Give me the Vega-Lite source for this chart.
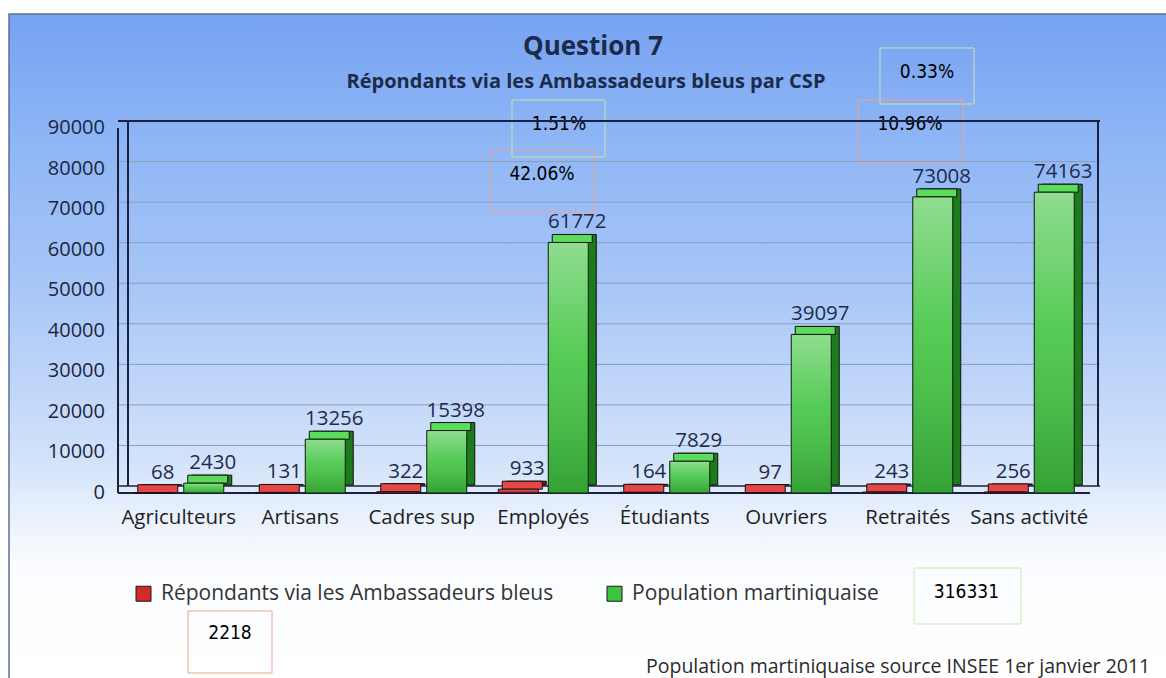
{
  "$schema": "https://vega.github.io/schema/vega-lite/v6.json",
  "width": 972,
  "height": 365,
  "autosize": {"type": "none"},
  "padding": {"left": 118, "top": 128, "right": 76, "bottom": 185},
  "background": "#ffffff",
  "config": {"view": {"stroke": null}, "font": "Open Sans"},
  "datasets": {
    "csp": [
      {"csp": "Agriculteurs", "serie": "Répondants via les Ambassadeurs bleus", "valeur": 68},
      {"csp": "Agriculteurs", "serie": "Population martiniquaise", "valeur": 2430},
      {"csp": "Artisans", "serie": "Répondants via les Ambassadeurs bleus", "valeur": 131},
      {"csp": "Artisans", "serie": "Population martiniquaise", "valeur": 13256},
      {"csp": "Cadres sup", "serie": "Répondants via les Ambassadeurs bleus", "valeur": 322},
      {"csp": "Cadres sup", "serie": "Population martiniquaise", "valeur": 15398},
      {"csp": "Employés", "serie": "Répondants via les Ambassadeurs bleus", "valeur": 933},
      {"csp": "Employés", "serie": "Population martiniquaise", "valeur": 61772},
      {"csp": "Étudiants", "serie": "Répondants via les Ambassadeurs bleus", "valeur": 164},
      {"csp": "Étudiants", "serie": "Population martiniquaise", "valeur": 7829},
      {"csp": "Ouvriers", "serie": "Répondants via les Ambassadeurs bleus", "valeur": 97},
      {"csp": "Ouvriers", "serie": "Population martiniquaise", "valeur": 39097},
      {"csp": "Retraités", "serie": "Répondants via les Ambassadeurs bleus", "valeur": 243},
      {"csp": "Retraités", "serie": "Population martiniquaise", "valeur": 73008},
      {"csp": "Sans activité", "serie": "Répondants via les Ambassadeurs bleus", "valeur": 256},
      {"csp": "Sans activité", "serie": "Population martiniquaise", "valeur": 74163}
    ],
    "graduations": [
      {"graduation": 0}, {"graduation": 10000}, {"graduation": 20000}, {"graduation": 30000}, {"graduation": 40000},
      {"graduation": 50000}, {"graduation": 60000}, {"graduation": 70000}, {"graduation": 80000}, {"graduation": 90000}
    ],
    "annotations": [
      {"id": "a1", "texte": "0.33%"},
      {"id": "a2", "texte": "10.96%"},
      {"id": "a3", "texte": "1.51%"},
      {"id": "a4", "texte": "42.06%"},
      {"id": "a5", "texte": "316331"},
      {"id": "a6", "texte": "2218"}
    ]
  },
  "resolve": {"scale": {"x": "independent", "y": "independent"}},
  "layer": [
    {
      "data": {"values": [{}]},
      "layer": [
        {
          "mark": {"type": "rect", "stroke": "#5d7091", "strokeWidth": 1.5,
            "fill": {"gradient": "linear", "x1": 0, "y1": 0, "x2": 0, "y2": 1,
              "stops": [
                {"offset": 0, "color": "#76a2f2"},
                {"offset": 0.172, "color": "#8cb4f5"},
                {"offset": 0.416, "color": "#a9c7f7"},
                {"offset": 0.657, "color": "#d0e1fa"},
                {"offset": 0.747, "color": "#e8f0fc"},
                {"offset": 0.822, "color": "#fbfcff"},
                {"offset": 1, "color": "#ffffff"}
              ]}},
          "encoding": {
            "x": {"datum": -0.11214, "type": "quantitative", "scale": {"domain": [0, 1], "nice": false, "zero": false}, "axis": null},
            "x2": {"datum": 1.08},
            "y": {"datum": 1.31233, "type": "quantitative", "scale": {"domain": [0, 1], "nice": false, "zero": false}, "axis": null},
            "y2": {"datum": -0.52}
          }
        },
        {
          "mark": {"type": "text", "text": "Question 7", "font": "Open Sans", "fontSize": 26, "fontWeight": "bold", "color": "#1c2b4a", "align": "center", "baseline": "alphabetic"},
          "encoding": {
            "x": {"datum": 0.48868, "type": "quantitative"},
            "y": {"datum": 1.2, "type": "quantitative"}
          }
        },
        {
          "mark": {"type": "text", "text": "Répondants via les Ambassadeurs bleus par CSP", "font": "Open Sans", "fontSize": 20, "fontWeight": "bold", "color": "#1c2b4a", "align": "center", "baseline": "alphabetic"},
          "encoding": {
            "x": {"datum": 0.48148, "type": "quantitative"},
            "y": {"datum": 1.10959, "type": "quantitative"}
          }
        },
        {
          "mark": {"type": "text", "text": "Population martiniquaise source INSEE 1er janvier 2011", "font": "Open Sans", "fontSize": 19.5, "color": "#2b2b2b", "align": "left", "baseline": "alphabetic"},
          "encoding": {
            "x": {"datum": 0.5432, "type": "quantitative"},
            "y": {"datum": -0.49315, "type": "quantitative"}
          }
        },
        {
          "mark": {"type": "rect", "fill": "transparent", "stroke": "#c9e3a6", "strokeWidth": 1},
          "encoding": {"x": {"datum": 0.78395, "type": "quantitative"}, "x2": {"datum": 0.88066}, "y": {"datum": 1.21918, "type": "quantitative"}, "y2": {"datum": 1.06575}}
        },
        {
          "mark": {"type": "rect", "fill": "transparent", "stroke": "#eea394", "strokeWidth": 1},
          "encoding": {"x": {"datum": 0.76132, "type": "quantitative"}, "x2": {"datum": 0.86934}, "y": {"datum": 1.07671, "type": "quantitative"}, "y2": {"datum": 0.90411}}
        },
        {
          "mark": {"type": "rect", "fill": "transparent", "stroke": "#c9e3a6", "strokeWidth": 1},
          "encoding": {"x": {"datum": 0.40535, "type": "quantitative"}, "x2": {"datum": 0.50103}, "y": {"datum": 1.07671, "type": "quantitative"}, "y2": {"datum": 0.92055}}
        },
        {
          "mark": {"type": "rect", "fill": "transparent", "stroke": "#eea394", "strokeWidth": 1},
          "encoding": {"x": {"datum": 0.38374, "type": "quantitative"}, "x2": {"datum": 0.49074}, "y": {"datum": 0.93973, "type": "quantitative"}, "y2": {"datum": 0.76986}}
        },
        {
          "mark": {"type": "rect", "fill": "transparent", "stroke": "#cfe8b0", "strokeWidth": 1},
          "encoding": {"x": {"datum": 0.81893, "type": "quantitative"}, "x2": {"datum": 0.92901}, "y": {"datum": -0.20548, "type": "quantitative"}, "y2": {"datum": -0.3589}}
        },
        {
          "mark": {"type": "rect", "fill": "transparent", "stroke": "#eea394", "strokeWidth": 1},
          "encoding": {"x": {"datum": 0.07202, "type": "quantitative"}, "x2": {"datum": 0.15844}, "y": {"datum": -0.32329, "type": "quantitative"}, "y2": {"datum": -0.49315}}
        },
        {
          "data": {"name": "annotations"},
          "transform": [{"filter": "datum.id === 'a1'"}],
          "mark": {"type": "text", "font": "DejaVu Sans Condensed, DejaVu Sans", "fontSize": 19, "color": "#000000", "align": "center", "baseline": "alphabetic"},
          "encoding": {"x": {"datum": 0.8323, "type": "quantitative"}, "y": {"datum": 1.13699, "type": "quantitative"}, "text": {"field": "texte", "type": "nominal"}}
        },
        {
          "data": {"name": "annotations"},
          "transform": [{"filter": "datum.id === 'a2'"}],
          "mark": {"type": "text", "font": "DejaVu Sans Condensed, DejaVu Sans", "fontSize": 19, "color": "#000000", "align": "center", "baseline": "alphabetic"},
          "encoding": {"x": {"datum": 0.81481, "type": "quantitative"}, "y": {"datum": 0.99452, "type": "quantitative"}, "text": {"field": "texte", "type": "nominal"}}
        },
        {
          "data": {"name": "annotations"},
          "transform": [{"filter": "datum.id === 'a3'"}],
          "mark": {"type": "text", "font": "DejaVu Sans Condensed, DejaVu Sans", "fontSize": 19, "color": "#000000", "align": "center", "baseline": "alphabetic"},
          "encoding": {"x": {"datum": 0.4537, "type": "quantitative"}, "y": {"datum": 0.99452, "type": "quantitative"}, "text": {"field": "texte", "type": "nominal"}}
        },
        {
          "data": {"name": "annotations"},
          "transform": [{"filter": "datum.id === 'a4'"}],
          "mark": {"type": "text", "font": "DejaVu Sans Condensed, DejaVu Sans", "fontSize": 19, "color": "#000000", "align": "center", "baseline": "alphabetic"},
          "encoding": {"x": {"datum": 0.43621, "type": "quantitative"}, "y": {"datum": 0.85753, "type": "quantitative"}, "text": {"field": "texte", "type": "nominal"}}
        },
        {
          "data": {"name": "annotations"},
          "transform": [{"filter": "datum.id === 'a5'"}],
          "mark": {"type": "text", "font": "DejaVu Sans Condensed, DejaVu Sans", "fontSize": 19, "color": "#000000", "align": "center", "baseline": "alphabetic"},
          "encoding": {"x": {"datum": 0.87294, "type": "quantitative"}, "y": {"datum": -0.28767, "type": "quantitative"}, "text": {"field": "texte", "type": "nominal"}}
        },
        {
          "data": {"name": "annotations"},
          "transform": [{"filter": "datum.id === 'a6'"}],
          "mark": {"type": "text", "font": "DejaVu Sans Condensed, DejaVu Sans", "fontSize": 19, "color": "#000000", "align": "center", "baseline": "alphabetic"},
          "encoding": {"x": {"datum": 0.11523, "type": "quantitative"}, "y": {"datum": -0.4, "type": "quantitative"}, "text": {"field": "texte", "type": "nominal"}}
        }
      ]
    },
    {
      "layer": [
        {
          "data": {"name": "graduations"},
          "transform": [{"filter": "datum.graduation > 0 && datum.graduation < 90000"}],
          "mark": {"type": "rule", "stroke": "#8d9db8", "strokeWidth": 1, "xOffset": 10, "x2Offset": 10, "yOffset": -7},
          "encoding": {
            "y": {"field": "graduation", "type": "quantitative", "scale": {"domain": [0, 90000], "nice": false}, "axis": null}
          }
        },
        {
          "data": {"name": "graduations"},
          "mark": {"type": "text", "font": "Open Sans", "fontSize": 20, "color": "#1c2640", "align": "right", "baseline": "middle", "xOffset": -13},
          "encoding": {
            "x": {"datum": "Agriculteurs", "type": "nominal", "bandPosition": 0, "scale": {"domain": ["Agriculteurs", "Artisans", "Cadres sup", "Employés", "Étudiants", "Ouvriers", "Retraités", "Sans activité"], "paddingInner": 0, "paddingOuter": 0}, "axis": null},
            "y": {"field": "graduation", "type": "quantitative", "scale": {"domain": [0, 90000], "nice": false}, "axis": null},
            "text": {"field": "graduation", "type": "quantitative", "format": "d"}
          }
        },
        {
          "data": {"values": [{}]},
          "mark": {"type": "rule", "stroke": "#1b2140", "strokeWidth": 2, "xOffset": 10, "x2Offset": 10, "yOffset": -7},
          "encoding": {"y": {"datum": 90000, "type": "quantitative", "scale": {"domain": [0, 90000], "nice": false}, "axis": null}}
        },
        {
          "data": {"values": [{}]},
          "mark": {"type": "rule", "stroke": "#1b2140", "strokeWidth": 1.5, "xOffset": 10, "x2Offset": 10, "yOffset": -7},
          "encoding": {"y": {"datum": 0, "type": "quantitative", "scale": {"domain": [0, 90000], "nice": false}, "axis": null}}
        },
        {
          "data": {"values": [{}]},
          "mark": {"type": "rule", "stroke": "#1b2140", "strokeWidth": 2},
          "encoding": {"y": {"datum": 0, "type": "quantitative", "scale": {"domain": [0, 90000], "nice": false}, "axis": null}}
        },
        {
          "data": {"values": [{}]},
          "mark": {"type": "rule", "stroke": "#1b2140", "strokeWidth": 2},
          "encoding": {
            "x": {"datum": "Agriculteurs", "type": "nominal", "bandPosition": 0, "scale": {"domain": ["Agriculteurs", "Artisans", "Cadres sup", "Employés", "Étudiants", "Ouvriers", "Retraités", "Sans activité"], "paddingInner": 0, "paddingOuter": 0}, "axis": null},
            "y": {"datum": 0, "type": "quantitative", "scale": {"domain": [0, 90000], "nice": false}, "axis": null},
            "y2": {"datum": 90000}
          }
        },
        {
          "data": {"values": [{}]},
          "mark": {"type": "rule", "stroke": "#1b2140", "strokeWidth": 2, "xOffset": 10, "yOffset": -7, "y2Offset": -7},
          "encoding": {
            "x": {"datum": "Agriculteurs", "type": "nominal", "bandPosition": 0, "scale": {"domain": ["Agriculteurs", "Artisans", "Cadres sup", "Employés", "Étudiants", "Ouvriers", "Retraités", "Sans activité"], "paddingInner": 0, "paddingOuter": 0}, "axis": null},
            "y": {"datum": 0, "type": "quantitative", "scale": {"domain": [0, 90000], "nice": false}, "axis": null},
            "y2": {"datum": 90000}
          }
        },
        {
          "data": {"values": [{}]},
          "mark": {"type": "rule", "stroke": "#1b2140", "strokeWidth": 2, "xOffset": 8, "yOffset": -7, "y2Offset": -7},
          "encoding": {
            "x": {"datum": "Sans activité", "type": "nominal", "bandPosition": 1, "scale": {"domain": ["Agriculteurs", "Artisans", "Cadres sup", "Employés", "Étudiants", "Ouvriers", "Retraités", "Sans activité"], "paddingInner": 0, "paddingOuter": 0}, "axis": null},
            "y": {"datum": 0, "type": "quantitative", "scale": {"domain": [0, 90000], "nice": false}, "axis": null},
            "y2": {"datum": 90000}
          }
        },
        {
          "data": {"name": "csp"},
          "transform": [{"filter": "datum.serie === 'Population martiniquaise'"}],
          "mark": {"type": "text", "font": "Open Sans", "fontSize": 20.5, "color": "#1e1e1e", "align": "center", "baseline": "alphabetic", "yOffset": 31},
          "encoding": {
            "x": {"field": "csp", "type": "nominal", "scale": {"domain": ["Agriculteurs", "Artisans", "Cadres sup", "Employés", "Étudiants", "Ouvriers", "Retraités", "Sans activité"], "paddingInner": 0, "paddingOuter": 0}, "axis": null},
            "y": {"datum": 0, "type": "quantitative", "scale": {"domain": [0, 90000], "nice": false}, "axis": null},
            "text": {"field": "csp", "type": "nominal"}
          }
        },
        {
          "data": {"name": "csp"},
          "transform": [{"filter": "datum.serie === 'Répondants via les Ambassadeurs bleus'"}],
          "mark": {"type": "bar", "width": 40, "xOffset": -17, "yOffset": -8, "y2Offset": -8, "color": "#7a1010", "stroke": "#111111", "strokeWidth": 1},
          "encoding": {
            "x": {"field": "csp", "type": "nominal", "scale": {"domain": ["Agriculteurs", "Artisans", "Cadres sup", "Employés", "Étudiants", "Ouvriers", "Retraités", "Sans activité"], "paddingInner": 0, "paddingOuter": 0}, "axis": null},
            "y": {"field": "valeur", "type": "quantitative", "scale": {"domain": [0, 90000], "nice": false}, "axis": null},
            "y2": {"datum": 0}
          }
        },
        {
          "data": {"name": "csp"},
          "transform": [{"filter": "datum.serie === 'Répondants via les Ambassadeurs bleus'"}],
          "mark": {"type": "bar", "width": 40, "xOffset": -21, "yOffset": -8, "y2Offset": 0, "color": "#e64646", "stroke": "#111111", "strokeWidth": 1},
          "encoding": {
            "x": {"field": "csp", "type": "nominal", "scale": {"domain": ["Agriculteurs", "Artisans", "Cadres sup", "Employés", "Étudiants", "Ouvriers", "Retraités", "Sans activité"], "paddingInner": 0, "paddingOuter": 0}, "axis": null},
            "y": {"field": "valeur", "type": "quantitative", "scale": {"domain": [0, 90000], "nice": false}, "axis": null},
            "y2": {"field": "valeur"}
          }
        },
        {
          "data": {"name": "csp"},
          "transform": [{"filter": "datum.serie === 'Répondants via les Ambassadeurs bleus'"}],
          "mark": {"type": "bar", "width": 40, "xOffset": -25},
          "encoding": {
            "x": {"field": "csp", "type": "nominal", "scale": {"domain": ["Agriculteurs", "Artisans", "Cadres sup", "Employés", "Étudiants", "Ouvriers", "Retraités", "Sans activité"], "paddingInner": 0, "paddingOuter": 0}, "axis": null},
            "y": {"field": "valeur", "type": "quantitative", "scale": {"domain": [0, 90000], "nice": false}, "axis": null},
            "color": {"field": "serie", "type": "nominal",
              "scale": {"domain": ["Répondants via les Ambassadeurs bleus", "Population martiniquaise"], "range": ["#d42a2a", "#3fc43f"]},
              "legend": {"title": null, "orient": "none", "legendX": 15, "legendY": 455, "direction": "horizontal", "padding": 0, "symbolType": "square", "symbolSize": 225, "symbolStrokeColor": "#1a1a1a", "symbolStrokeWidth": 1, "symbolOpacity": 1, "labelFont": "Open Sans", "labelFontSize": 21, "labelColor": "#333333", "labelOffset": 7, "labelLimit": 600, "columnPadding": 50}}
          }
        },
        {
          "data": {"name": "csp"},
          "transform": [{"filter": "datum.serie === 'Répondants via les Ambassadeurs bleus'"}],
          "mark": {"type": "bar", "width": 40, "xOffset": -25, "stroke": "#1a0a0a", "strokeWidth": 1,
            "fill": {"gradient": "linear", "x1": 0, "y1": 0, "x2": 0, "y2": 1, "stops": [{"offset": 0, "color": "rgba(255,255,255,0.4)"}, {"offset": 1, "color": "rgba(0,0,0,0.15)"}]}},
          "encoding": {
            "x": {"field": "csp", "type": "nominal", "scale": {"domain": ["Agriculteurs", "Artisans", "Cadres sup", "Employés", "Étudiants", "Ouvriers", "Retraités", "Sans activité"], "paddingInner": 0, "paddingOuter": 0}, "axis": null},
            "y": {"field": "valeur", "type": "quantitative", "scale": {"domain": [0, 90000], "nice": false}, "axis": null}
          }
        },
        {
          "data": {"name": "csp"},
          "transform": [{"filter": "datum.serie === 'Population martiniquaise'"}],
          "mark": {"type": "bar", "width": 40, "xOffset": 33, "yOffset": -8, "y2Offset": -8, "color": "#1d7a1d", "stroke": "#111111", "strokeWidth": 1},
          "encoding": {
            "x": {"field": "csp", "type": "nominal", "scale": {"domain": ["Agriculteurs", "Artisans", "Cadres sup", "Employés", "Étudiants", "Ouvriers", "Retraités", "Sans activité"], "paddingInner": 0, "paddingOuter": 0}, "axis": null},
            "y": {"field": "valeur", "type": "quantitative", "scale": {"domain": [0, 90000], "nice": false}, "axis": null},
            "y2": {"datum": 0}
          }
        },
        {
          "data": {"name": "csp"},
          "transform": [{"filter": "datum.serie === 'Population martiniquaise'"}],
          "mark": {"type": "bar", "width": 40, "xOffset": 29, "yOffset": -8, "y2Offset": 0, "color": "#5cdc5c", "stroke": "#111111", "strokeWidth": 1},
          "encoding": {
            "x": {"field": "csp", "type": "nominal", "scale": {"domain": ["Agriculteurs", "Artisans", "Cadres sup", "Employés", "Étudiants", "Ouvriers", "Retraités", "Sans activité"], "paddingInner": 0, "paddingOuter": 0}, "axis": null},
            "y": {"field": "valeur", "type": "quantitative", "scale": {"domain": [0, 90000], "nice": false}, "axis": null},
            "y2": {"field": "valeur"}
          }
        },
        {
          "data": {"name": "csp"},
          "transform": [{"filter": "datum.serie === 'Population martiniquaise'"}],
          "mark": {"type": "bar", "width": 40, "xOffset": 25},
          "encoding": {
            "x": {"field": "csp", "type": "nominal", "scale": {"domain": ["Agriculteurs", "Artisans", "Cadres sup", "Employés", "Étudiants", "Ouvriers", "Retraités", "Sans activité"], "paddingInner": 0, "paddingOuter": 0}, "axis": null},
            "y": {"field": "valeur", "type": "quantitative", "scale": {"domain": [0, 90000], "nice": false}, "axis": null},
            "color": {"field": "serie", "type": "nominal",
              "scale": {"domain": ["Répondants via les Ambassadeurs bleus", "Population martiniquaise"], "range": ["#d42a2a", "#3fc43f"]},
              "legend": null}
          }
        },
        {
          "data": {"name": "csp"},
          "transform": [{"filter": "datum.serie === 'Population martiniquaise'"}],
          "mark": {"type": "bar", "width": 40, "xOffset": 25, "stroke": "#0e1f0e", "strokeWidth": 1,
            "fill": {"gradient": "linear", "x1": 0, "y1": 0, "x2": 0, "y2": 1, "stops": [{"offset": 0, "color": "rgba(255,255,255,0.42)"}, {"offset": 0.45, "color": "rgba(255,255,255,0.12)"}, {"offset": 1, "color": "rgba(0,0,0,0.18)"}]}},
          "encoding": {
            "x": {"field": "csp", "type": "nominal", "scale": {"domain": ["Agriculteurs", "Artisans", "Cadres sup", "Employés", "Étudiants", "Ouvriers", "Retraités", "Sans activité"], "paddingInner": 0, "paddingOuter": 0}, "axis": null},
            "y": {"field": "valeur", "type": "quantitative", "scale": {"domain": [0, 90000], "nice": false}, "axis": null}
          }
        },
        {
          "data": {"name": "csp"},
          "transform": [{"filter": "datum.serie === 'Répondants via les Ambassadeurs bleus'"}],
          "mark": {"type": "text", "font": "Open Sans", "fontSize": 20.5, "color": "#1f2b4d", "align": "center", "baseline": "alphabetic", "xOffset": -16, "yOffset": -14},
          "encoding": {
            "x": {"field": "csp", "type": "nominal", "scale": {"domain": ["Agriculteurs", "Artisans", "Cadres sup", "Employés", "Étudiants", "Ouvriers", "Retraités", "Sans activité"], "paddingInner": 0, "paddingOuter": 0}, "axis": null},
            "y": {"field": "valeur", "type": "quantitative", "scale": {"domain": [0, 90000], "nice": false}, "axis": null},
            "text": {"field": "valeur", "type": "quantitative", "format": "d"}
          }
        },
        {
          "data": {"name": "csp"},
          "transform": [{"filter": "datum.serie === 'Population martiniquaise'"}],
          "mark": {"type": "text", "font": "Open Sans", "fontSize": 20.5, "color": "#1f2b4d", "align": "center", "baseline": "alphabetic", "xOffset": 34, "yOffset": -14},
          "encoding": {
            "x": {"field": "csp", "type": "nominal", "scale": {"domain": ["Agriculteurs", "Artisans", "Cadres sup", "Employés", "Étudiants", "Ouvriers", "Retraités", "Sans activité"], "paddingInner": 0, "paddingOuter": 0}, "axis": null},
            "y": {"field": "valeur", "type": "quantitative", "scale": {"domain": [0, 90000], "nice": false}, "axis": null},
            "text": {"field": "valeur", "type": "quantitative", "format": "d"}
          }
        }
      ]
    }
  ]
}
